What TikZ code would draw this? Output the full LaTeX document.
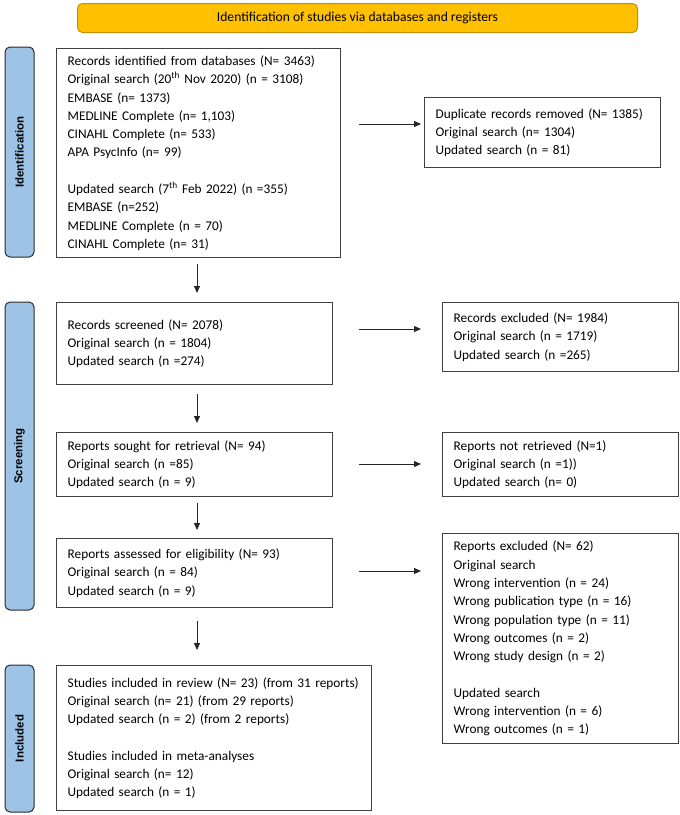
\documentclass[tikz,border=0pt]{standalone}
\usepackage{fontspec}
\setmainfont{Carlito}
\newfontfamily\sidefont{Liberation Sans}
\usetikzlibrary{arrows.meta}
\definecolor{bannerfill}{HTML}{FFC000}
\definecolor{bannerdraw}{HTML}{C09000}
\definecolor{sidefill}{HTML}{9DC3E6}
\definecolor{sidedraw}{HTML}{2A2A2A}
\definecolor{boxdraw}{HTML}{404040}
\tikzset{
  x=1pt, y=-1pt,
  box/.style={draw=boxdraw, line width=1.3pt, anchor=north west, align=left,
    inner xsep=11pt, inner ysep=0pt, font=\fontsize{13.3}{18.3}\selectfont},
  sidebar/.style={draw=sidedraw, fill=sidefill, line width=1pt, rounded corners=5pt},
  sidelabel/.style={rotate=90, font=\sidefont\bfseries\fontsize{11.5}{13}\selectfont},
  arr/.style={draw=black!85, line width=0.8pt, -{Triangle[length=7pt,width=6pt]}},
}
\begin{document}
\begin{tikzpicture}
\useasboundingbox (0,0) rectangle (680,815);
% banner
\node[draw=bannerdraw, fill=bannerfill, line width=1pt, rounded corners=5pt,
  anchor=north west, minimum width=560pt, minimum height=29pt, inner sep=0pt,
  font=\fontsize{13.6}{15}\selectfont] (banner) at (77,3)
  {\raisebox{-2pt}{Identification of studies via databases and registers}};
% side bars
\path[sidebar] (5,47) rectangle (34,257);
\node[sidelabel] (lid) at (19.5,152) {Identification};
\path[sidebar] (5,302) rectangle (34,610);
\node[sidelabel] (lscr) at (19.5,456) {Screening};
\path[sidebar] (5,665) rectangle (34,812);
\node[sidelabel] (linc) at (19.5,738.5) {Included};
% boxes
\node[box, text width=262pt, minimum height=209pt] (idbox) at (56,48) {%
Records identified from databases (N= 3463)\\
Original search (20\textsuperscript{th} Nov 2020) (n = 3108)\\
EMBASE (n= 1373)\\
MEDLINE Complete (n= 1,103)\\
CINAHL Complete (n= 533)\\
APA PsycInfo (n= 99)\\[18.3pt]
Updated search (7\textsuperscript{th} Feb 2022) (n =355)\\
EMBASE (n=252)\\
MEDLINE Complete (n = 70)\\
CINAHL Complete (n= 31)};
\node[box, text width=214pt, minimum height=70pt] (dup) at (424,97) {%
Duplicate records removed (N= 1385)\\
Original search (n= 1304)\\
Updated search (n = 81)};
\node[box, text width=254pt, minimum height=82pt] (scr) at (56,302) {%
Records screened (N= 2078)\\
Original search (n = 1804)\\
Updated search (n =274)};
\node[box, text width=214pt, minimum height=69pt] (rexc) at (442,302) {%
Records excluded (N= 1984)\\
Original search (n = 1719)\\
Updated search (n =265)};
\node[box, text width=254pt, minimum height=64pt] (sought) at (56,432) {%
Reports sought for retrieval (N= 94)\\
Original search (n =85)\\
Updated search (n = 9)};
\node[box, text width=214pt, minimum height=64pt] (notret) at (442,432) {%
Reports not retrieved (N=1)\\
Original search (n =1))\\
Updated search (n= 0)};
\node[box, text width=254pt, minimum height=69pt] (assess) at (56,538) {%
Reports assessed for eligibility (N= 93)\\
Original search (n = 84)\\
Updated search (n = 9)};
\node[box, text width=214pt, minimum height=210pt] (excl) at (442,533) {%
Reports excluded (N= 62)\\
Original search\\
Wrong intervention (n = 24)\\
Wrong publication type (n = 16)\\
Wrong population type (n = 11)\\
Wrong outcomes (n = 2)\\
Wrong study design (n = 2)\\[18.3pt]
Updated search\\
Wrong intervention (n = 6)\\
Wrong outcomes (n = 1)};
\node[box, text width=293pt, minimum height=145pt] (incl) at (56,665) {%
Studies included in review (N= 23) (from 31 reports)\\
Original search (n= 21) (from 29 reports)\\
Updated search (n = 2) (from 2 reports)\\[18.3pt]
Studies included in meta-analyses\\
Original search (n= 12)\\
Updated search (n = 1)};
% vertical arrows
\coordinate (vx) at (197,0);
\draw[arr, shorten <=6pt, shorten >=9pt] (vx |- idbox.south) -- (vx |- scr.north);
\draw[arr, shorten <=9pt, shorten >=9pt] (vx |- scr.south) -- (vx |- sought.north);
\draw[arr, shorten <=6pt, shorten >=8pt] (vx |- sought.south) -- (vx |- assess.north);
\draw[arr, shorten <=13pt, shorten >=15pt] (vx |- assess.south) -- (vx |- incl.north);
% horizontal arrows
\coordinate (h1) at (0,124);
\coordinate (h2) at (0,329);
\coordinate (h3) at (0,464);
\coordinate (h4) at (0,571);
\coordinate (hs) at (359,0);
\coordinate (he) at (421,0);
\draw[arr] (hs |- h1) -- (he |- h1);
\draw[arr] (hs |- h2) -- (he |- h2);
\draw[arr] (hs |- h3) -- (he |- h3);
\draw[arr] (hs |- h4) -- (he |- h4);
\end{tikzpicture}
\end{document}
